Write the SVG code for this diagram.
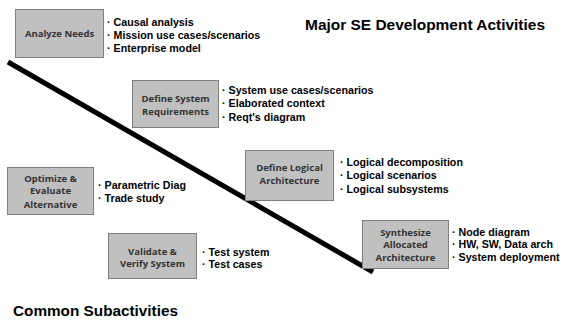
<svg xmlns="http://www.w3.org/2000/svg" width="566" height="320" viewBox="0 0 566 320">
<style>
.box{fill:#c0c0c0;stroke:#7f7f7f;stroke-width:1}
.bt{font-family:"Open Sans","Liberation Sans",sans-serif;font-weight:bold;font-size:9.5px;fill:#333;text-anchor:middle}
.li{font-family:"Liberation Sans",Arial,sans-serif;font-weight:bold;font-size:10.7px;fill:#000}
.ti{font-family:"Liberation Sans",Arial,sans-serif;font-weight:bold;font-size:15.5px;fill:#000}
</style>
<rect width="566" height="320" fill="#fff"/>
<g id="connectors">
<line x1="8" y1="62" x2="373" y2="272" stroke="#000" stroke-width="5"/>
</g>
<g id="analyze">
<rect class="box" x="15.5" y="9.5" width="88" height="48"/>
<text class="bt" x="59.5" y="37">Analyze Needs</text>
<text class="li" x="107" y="26">· Causal analysis</text>
<text class="li" x="107" y="39">· Mission use cases/scenarios</text>
<text class="li" x="107" y="52">· Enterprise model</text>
</g>
<g id="sysreq">
<rect class="box" x="132.5" y="80.5" width="86" height="47"/>
<text class="bt" x="175.5" y="101.5">Define System</text>
<text class="bt" x="175.5" y="114.5">Requirements</text>
<text class="li" x="222" y="94">· System use cases/scenarios</text>
<text class="li" x="222" y="107">· Elaborated context</text>
<text class="li" x="222" y="121">· Reqt's diagram</text>
</g>
<g id="logical">
<rect class="box" x="245.5" y="150.5" width="88" height="50"/>
<text class="bt" x="289.5" y="170.5">Define Logical</text>
<text class="bt" x="289.5" y="183.5">Architecture</text>
<text class="li" x="340" y="166">· Logical decomposition</text>
<text class="li" x="340" y="179">· Logical scenarios</text>
<text class="li" x="340" y="193">· Logical subsystems</text>
</g>
<g id="optimize">
<rect class="box" x="7.5" y="167.5" width="86" height="47"/>
<text class="bt" x="50.5" y="181.5">Optimize &amp;</text>
<text class="bt" x="50.5" y="194">Evaluate</text>
<text class="bt" x="50.5" y="207.5">Alternative</text>
<text class="li" x="98" y="189">· Parametric Diag</text>
<text class="li" x="98" y="202">· Trade study</text>
</g>
<g id="validate">
<rect class="box" x="108.5" y="233.5" width="88" height="45"/>
<text class="bt" x="152.5" y="254.5">Validate &amp;</text>
<text class="bt" x="152.5" y="266.5">Verify System</text>
<text class="li" x="202" y="256">· Test system</text>
<text class="li" x="202" y="268">· Test cases</text>
</g>
<g id="synthesize">
<rect class="box" x="362.5" y="220.5" width="86" height="48"/>
<text class="bt" x="405.5" y="235.5">Synthesize</text>
<text class="bt" x="405.5" y="247.5">Allocated</text>
<text class="bt" x="405.5" y="260.5">Architecture</text>
<text class="li" x="452" y="236">· Node diagram</text>
<text class="li" x="452" y="248">· HW, SW, Data arch</text>
<text class="li" x="452" y="261">· System deployment</text>
</g>
<text class="ti" x="305" y="29.5" textLength="240" lengthAdjust="spacingAndGlyphs">Major SE Development Activities</text>
<text class="ti" x="13" y="315.5" textLength="165" lengthAdjust="spacingAndGlyphs">Common Subactivities</text>
</svg>
